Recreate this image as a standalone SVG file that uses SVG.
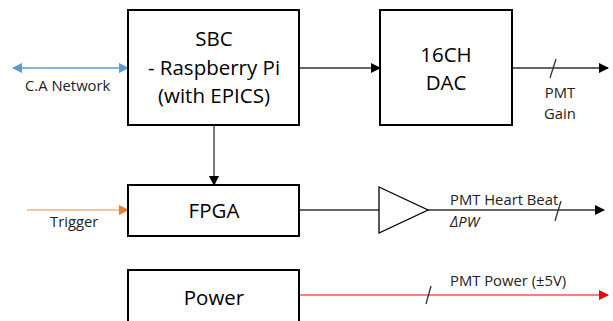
<svg xmlns="http://www.w3.org/2000/svg" width="613" height="321" viewBox="0 0 613 321">
<defs>
<style>
.box{fill:#fff;stroke:#000;stroke-width:2}
.t{font-family:"Open Sans","Liberation Sans",sans-serif;font-size:20.5px;fill:#000;text-anchor:middle}
.s{font-family:"Open Sans","Liberation Sans",sans-serif;font-size:14.8px;fill:#222}
.ln{stroke:#333;stroke-width:1.3;fill:none}
</style>
<marker id="ab" markerWidth="10" markerHeight="10" refX="9" refY="5" orient="auto" markerUnits="userSpaceOnUse"><path d="M0,0 L10,5 L0,10 z" fill="#000"/></marker>
<marker id="abl" markerWidth="10" markerHeight="10" refX="9" refY="5" orient="auto-start-reverse" markerUnits="userSpaceOnUse"><path d="M0,0 L10,5 L0,10 z" fill="#5b9bd5"/></marker>
<marker id="aor" markerWidth="10" markerHeight="10" refX="9" refY="5" orient="auto" markerUnits="userSpaceOnUse"><path d="M0,0 L10,5 L0,10 z" fill="#ed7d31"/></marker>
<marker id="are" markerWidth="10" markerHeight="10" refX="9" refY="5" orient="auto" markerUnits="userSpaceOnUse"><path d="M0,0 L10,5 L0,10 z" fill="#ff0000"/></marker>
</defs>
<rect width="613" height="321" fill="#fff"/>
<g id="connectors">
<line x1="13" y1="68" x2="128" y2="68" stroke="#5b9bd5" stroke-width="1.5" marker-start="url(#abl)" marker-end="url(#abl)"/>
<line x1="299" y1="68" x2="380" y2="68" class="ln" marker-end="url(#ab)"/>
<line x1="512" y1="68" x2="608" y2="68" class="ln" marker-end="url(#ab)"/>
<line x1="550" y1="78" x2="556" y2="59" class="ln"/>
<line x1="214" y1="125" x2="214" y2="185" class="ln" marker-end="url(#ab)"/>
<line x1="27" y1="210" x2="128" y2="210" stroke="#f4b183" stroke-width="1.5" marker-end="url(#aor)"/>
<line x1="299" y1="210" x2="379" y2="210" class="ln"/>
<line x1="428" y1="210" x2="604" y2="210" class="ln" marker-end="url(#ab)"/>
<line x1="555" y1="221" x2="561" y2="201" class="ln"/>
<line x1="299" y1="295" x2="608" y2="295" stroke="#ff0000" stroke-width="1.2" marker-end="url(#are)"/>
<line x1="426" y1="304" x2="431" y2="286" class="ln"/>
</g>
<g id="sbc">
<rect x="128" y="10" width="171" height="115" class="box"/>
<text x="214" y="46" class="t">SBC</text>
<text x="214" y="75" class="t">- Raspberry Pi</text>
<text x="214" y="103" class="t">(with EPICS)</text>
</g>
<g id="dac">
<rect x="380" y="10" width="132" height="115" class="box"/>
<text x="446" y="62" class="t">16CH</text>
<text x="446" y="90" class="t">DAC</text>
</g>
<g id="fpga">
<rect x="128" y="185" width="171" height="51" class="box"/>
<text x="214" y="218" class="t">FPGA</text>
</g>
<g id="power">
<rect x="128" y="270" width="171" height="60" class="box"/>
<text x="214" y="305" class="t">Power</text>
</g>
<g id="amp">
<polygon points="379,187 428,210 379,233" fill="#fff" stroke="#000" stroke-width="1.3"/>
</g>
<g id="labels">
<text x="25" y="91" class="s">C.A Network</text>
<text x="50" y="227" class="s">Trigger</text>
<text x="560" y="98" class="s" text-anchor="middle">PMT</text>
<text x="560" y="119" class="s" text-anchor="middle">Gain</text>
<text x="450" y="205" class="s">PMT Heart Beat</text>
<text x="450" y="227" class="s" font-style="italic">ΔPW</text>
<text x="450" y="286" class="s">PMT Power (±5V)</text>
</g>
</svg>
